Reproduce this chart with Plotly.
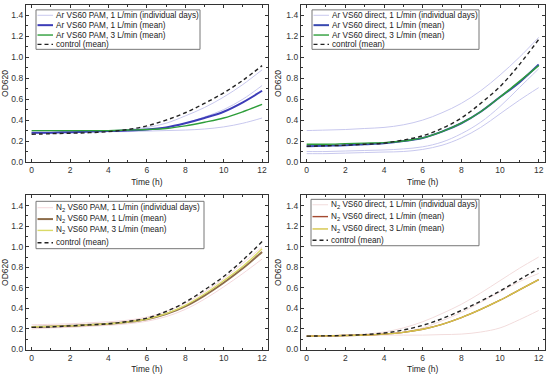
import plotly.graph_objects as go

t = [0, 1, 2, 3, 4, 5, 6, 7, 8, 9, 10, 11, 12]

# Panel 1: Ar VS60 PAM
p1_days = [
    [0.28, 0.28, 0.285, 0.29, 0.295, 0.31, 0.33, 0.37, 0.44, 0.52, 0.62, 0.74, 0.88],
    [0.28, 0.28, 0.285, 0.29, 0.295, 0.30, 0.31, 0.33, 0.37, 0.43, 0.50, 0.60, 0.73],
    [0.28, 0.28, 0.28, 0.285, 0.29, 0.29, 0.295, 0.30, 0.305, 0.315, 0.335, 0.37, 0.42],
]
p1_mean1 = [0.28, 0.28, 0.285, 0.29, 0.295, 0.30, 0.31, 0.33, 0.37, 0.42, 0.48, 0.57, 0.68]
p1_mean3 = [0.30, 0.30, 0.30, 0.30, 0.30, 0.305, 0.31, 0.32, 0.345, 0.38, 0.42, 0.48, 0.55]
p1_ctrl = [0.265, 0.27, 0.275, 0.28, 0.29, 0.31, 0.345, 0.40, 0.47, 0.56, 0.66, 0.78, 0.92]

# Panel 2: Ar VS60 direct
p2_days = [
    [0.30, 0.305, 0.31, 0.32, 0.33, 0.355, 0.40, 0.47, 0.56, 0.68, 0.83, 1.00, 1.19],
    [0.10, 0.10, 0.105, 0.11, 0.115, 0.125, 0.145, 0.19, 0.27, 0.38, 0.53, 0.71, 0.89],
    [0.08, 0.08, 0.085, 0.09, 0.095, 0.10, 0.12, 0.16, 0.23, 0.33, 0.46, 0.59, 0.71],
]
p2_mean1 = [0.15, 0.155, 0.16, 0.17, 0.18, 0.20, 0.23, 0.29, 0.37, 0.48, 0.62, 0.76, 0.93]
p2_mean3 = [0.17, 0.17, 0.175, 0.18, 0.185, 0.20, 0.23, 0.29, 0.37, 0.48, 0.62, 0.77, 0.92]
p2_ctrl = [0.15, 0.155, 0.16, 0.17, 0.18, 0.21, 0.25, 0.32, 0.42, 0.56, 0.72, 0.93, 1.17]

# Panel 3: N2 VS60 PAM
p3_days = [
    [0.24, 0.245, 0.25, 0.26, 0.27, 0.285, 0.315, 0.37, 0.45, 0.56, 0.69, 0.84, 1.00],
    [0.22, 0.225, 0.23, 0.24, 0.25, 0.27, 0.30, 0.345, 0.42, 0.525, 0.65, 0.79, 0.96],
    [0.20, 0.21, 0.215, 0.225, 0.235, 0.25, 0.275, 0.32, 0.39, 0.49, 0.61, 0.74, 0.88],
]
p3_mean1 = [0.22, 0.225, 0.23, 0.24, 0.25, 0.268, 0.295, 0.345, 0.42, 0.525, 0.65, 0.79, 0.95]
p3_mean3 = [0.22, 0.225, 0.23, 0.24, 0.25, 0.268, 0.297, 0.35, 0.43, 0.54, 0.67, 0.81, 0.98]
p3_ctrl = [0.215, 0.22, 0.23, 0.24, 0.25, 0.272, 0.305, 0.37, 0.46, 0.58, 0.71, 0.87, 1.05]

# Panel 4: N2 VS60 direct
p4_days = [
    [0.13, 0.135, 0.14, 0.15, 0.17, 0.21, 0.27, 0.35, 0.44, 0.55, 0.67, 0.79, 0.90],
    [0.13, 0.135, 0.14, 0.145, 0.155, 0.17, 0.21, 0.28, 0.36, 0.46, 0.56, 0.66, 0.74],
    [0.13, 0.13, 0.135, 0.135, 0.14, 0.14, 0.14, 0.145, 0.15, 0.17, 0.21, 0.29, 0.38],
]
p4_mean1 = [0.13, 0.133, 0.136, 0.141, 0.15, 0.167, 0.197, 0.245, 0.31, 0.39, 0.48, 0.58, 0.68]
p4_mean3 = [0.13, 0.133, 0.136, 0.141, 0.15, 0.167, 0.197, 0.245, 0.31, 0.39, 0.48, 0.58, 0.68]
p4_ctrl = [0.13, 0.133, 0.137, 0.145, 0.16, 0.19, 0.235, 0.30, 0.38, 0.47, 0.57, 0.68, 0.79]

labels = [
    ["Ar VS60 PAM, 1 L/min (individual days)", "Ar VS60 PAM, 1 L/min (mean)",
     "Ar VS60 PAM, 3 L/min (mean)", "control (mean)"],
    ["Ar VS60 direct, 1 L/min (individual days)", "Ar VS60 direct, 1 L/min (mean)",
     "Ar VS60 direct, 3 L/min (mean)", "control (mean)"],
    ["N<sub>2</sub> VS60 PAM, 1 L/min (individual days)", "N<sub>2</sub> VS60 PAM, 1 L/min (mean)",
     "N<sub>2</sub> VS60 PAM, 3 L/min (mean)", "control (mean)"],
    ["N<sub>2</sub> VS60 direct, 1 L/min (individual days)", "N<sub>2</sub> VS60 direct, 1 L/min (mean)",
     "N<sub>2</sub> VS60 direct, 3 L/min (mean)", "control (mean)"],
]

panels = [
    (p1_days, p1_mean1, p1_mean3, p1_ctrl),
    (p2_days, p2_mean1, p2_mean3, p2_ctrl),
    (p3_days, p3_mean1, p3_mean3, p3_ctrl),
    (p4_days, p4_mean1, p4_mean3, p4_ctrl),
]

styles = [
    dict(day="#c8c8ee", m1="#3c3cb8", m1w=2.0, m3="#2e9e3a", m3w=1.4),
    dict(day="#c8c8ee", m1="#3848b0", m1w=2.0, m3="#2e9e3a", m3w=1.4),
    dict(day="#f4d8dc", m1="#8c6c4a", m1w=2.0, m3="#dada66", m3w=1.4),
    dict(day="#f2dcdc", m1="#a44a30", m1w=1.4, m3="#d4c448", m3w=1.4),
]
CTRL_COLOR = "#222222"
CTRL_DASH = "4px,3px"

FONT = "Liberation Sans, Arial, sans-serif"
W, H = 550, 380
fig = go.Figure()

xdom = [[0.047, 0.487], [0.547, 0.990]]
ydom = [[0.568, 0.987], [0.068, 0.479]]

# legend boxes (pixel layout): left, right, top, bottom, entry centre rows
leg_px = [
    dict(l=36, r=200, t=10, b=50, rows=[15.5, 25.5, 35.5, 45]),
    dict(l=312, r=479, t=10, b=50, rows=[15.5, 25.5, 35.5, 45]),
    dict(l=36, r=204, t=204, b=252, rows=[210.5, 222, 233.5, 246]),
    dict(l=311, r=479, t=202, b=249, rows=[207.5, 219.5, 232, 243.5]),
]


def px(xp):
    return xp / W


def py(yp):
    return (H - yp) / H


shapes = []
annotations = []

for i, (days, m1, m3, ctrl) in enumerate(panels):
    ax = "" if i == 0 else str(i + 1)
    st = styles[i]
    lab = labels[i]
    for j, d in enumerate(days):
        fig.add_trace(go.Scatter(x=t, y=d, mode="lines", line=dict(color=st["day"], width=1, shape="spline"),
                                 name=lab[0], legendgroup=f"d{i}", showlegend=False,
                                 xaxis="x" + ax, yaxis="y" + ax))
    fig.add_trace(go.Scatter(x=t, y=m1, mode="lines", line=dict(color=st["m1"], width=st["m1w"], shape="spline"),
                             name=lab[1], showlegend=False, xaxis="x" + ax, yaxis="y" + ax))
    fig.add_trace(go.Scatter(x=t, y=m3, mode="lines", line=dict(color=st["m3"], width=st["m3w"], shape="spline"),
                             name=lab[2], showlegend=False, xaxis="x" + ax, yaxis="y" + ax))
    fig.add_trace(go.Scatter(x=t, y=ctrl, mode="lines",
                             line=dict(color=CTRL_COLOR, width=1.4, dash=CTRL_DASH, shape="spline"),
                             name=lab[3], showlegend=False, xaxis="x" + ax, yaxis="y" + ax))

    r, c = divmod(i, 2)
    axis_common = dict(showline=True, linecolor="#333", linewidth=1, mirror="ticks", ticks="inside",
                       ticklen=3, tickcolor="#333", showgrid=False, zeroline=False,
                       tickfont=dict(family=FONT, size=8.5, color="#333"))
    fig.layout["xaxis" + ax] = dict(domain=xdom[c], anchor="y" + ax, range=[-0.3, 12.3], dtick=2, tick0=0,
                                    minor=dict(dtick=1, ticks="inside", ticklen=2, tickcolor="#333"),
                                    title=dict(text="Time (h)", font=dict(family=FONT, size=8.5, color="#222"),
                                               standoff=4),
                                    **axis_common)
    fig.layout["yaxis" + ax] = dict(domain=ydom[r], anchor="x" + ax, range=[0, 1.5], dtick=0.2, tick0=0,
                                    tickformat=".1f",
                                    minor=dict(dtick=0.1, ticks="inside", ticklen=2, tickcolor="#333"),
                                    title=dict(text="OD620", font=dict(family=FONT, size=8.5, color="#222"),
                                               standoff=3),
                                    **axis_common)

    # legend drawn as a boxed key
    lg = leg_px[i]
    shapes.append(dict(type="rect", xref="paper", yref="paper", x0=px(lg["l"]), x1=px(lg["r"]),
                       y0=py(lg["b"]), y1=py(lg["t"]), line=dict(color="#777", width=1),
                       fillcolor="white", layer="above"))
    keys = [(st["day"], 1, "solid"), (st["m1"], st["m1w"], "solid"), (st["m3"], st["m3w"], "solid"),
            (CTRL_COLOR, 1.4, CTRL_DASH)]
    for k, (col, wd, ds) in enumerate(keys):
        yy = py(lg["rows"][k])
        shapes.append(dict(type="line", xref="paper", yref="paper", x0=px(lg["l"] + 1.5), x1=px(lg["l"] + 17),
                           y0=yy, y1=yy, line=dict(color=col, width=wd, dash=ds), layer="above"))
        annotations.append(dict(xref="paper", yref="paper", x=px(lg["l"] + 17.5), y=yy, xanchor="left",
                                yanchor="middle", text=lab[k], showarrow=False,
                                font=dict(family=FONT, size=8.2, color="#222")))

fig.update_layout(width=W, height=H, margin=dict(l=0, r=0, t=0, b=0),
                  paper_bgcolor="white", plot_bgcolor="white", showlegend=False,
                  shapes=shapes, annotations=annotations)

fig.write_html("out.html", config={"displayModeBar": False},
               post_script="document.body.style.margin='0';document.body.style.padding='0';")
